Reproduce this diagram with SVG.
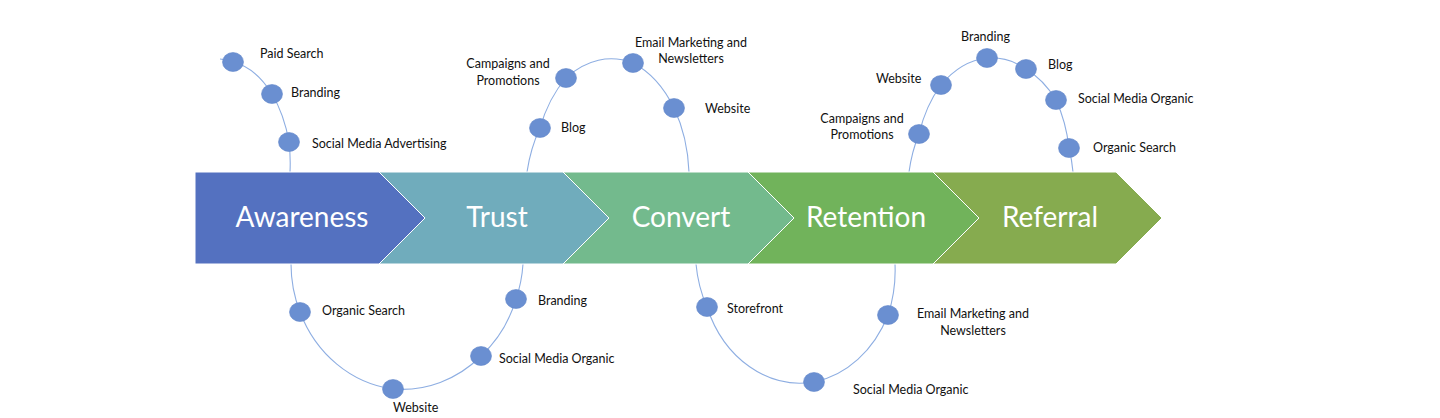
<svg xmlns="http://www.w3.org/2000/svg" width="1440" height="418" viewBox="0 0 1440 418">
<style>
.curve{fill:none;stroke:#8EAEE2;stroke-width:1.1}
.dot{fill:#6A8FD1;stroke:#6286C9;stroke-width:0.6}
.chev{stroke:#FFFFFF;stroke-width:1}
.stage{font-family:Lato,"Open Sans",sans-serif;font-size:28px;fill:#FFFFFF;text-anchor:middle}
.lbl{font-family:Lato,"Open Sans",sans-serif;font-size:12.5px;fill:#111111}
.mid{text-anchor:middle}
</style>
<rect width="1440" height="418" fill="#FFFFFF"/>
<g id="connectors">
<path class="curve" d="M220,59 A70,113 0 0,1 233,62 A70,113 0 0,1 272,94 A70,113 0 0,1 289,142 A70,113 0 0,1 290,172 L290,180"/>
<path class="curve" d="M291,256 L291,264 A116,125 0 0,0 300,312 A116,125 0 0,0 393,389 A116,125 0 0,0 481,356 A116,125 0 0,0 516,299 A116,125 0 0,0 523,264 L523,256"/>
<path class="curve" d="M527,180 L527,172 A85,125 0 0,1 540,128 A85,125 0 0,1 566,78 A85,125 0 0,1 633,63 A85,125 0 0,1 674,108 A85,125 0 0,1 689,172 L689,180"/>
<path class="curve" d="M696,256 L696,264 A100,120 0 0,0 707,307 A100,120 0 0,0 814,382 A100,120 0 0,0 888,315 A100,120 0 0,0 895,264 L895,256"/>
<path class="curve" d="M909,180 L909,172 A82,120 0 0,1 919,134 A82,120 0 0,1 941,85 A82,120 0 0,1 987,58 A82,120 0 0,1 1026,69 A82,120 0 0,1 1056,100 A82,120 0 0,1 1069,148 A82,120 0 0,1 1073,172 L1073,180"/>
</g>
<g id="stage-awareness">
<polygon class="chev" fill="#5471C0" points="195,172 379,172 425,218 379,264 195,264"/>
<text class="stage" x="302" y="227">Awareness</text>
</g>
<g id="stage-trust">
<polygon class="chev" fill="#70ACBC" points="379,172 563,172 609,218 563,264 379,264 425,218"/>
<text class="stage" x="497" y="227">Trust</text>
</g>
<g id="stage-convert">
<polygon class="chev" fill="#73BA8D" points="563,172 748,172 794,218 748,264 563,264 609,218"/>
<text class="stage" x="681" y="227">Convert</text>
</g>
<g id="stage-retention">
<polygon class="chev" fill="#71B35B" points="748,172 933,172 979,218 933,264 748,264 794,218"/>
<text class="stage" x="866" y="227">Retention</text>
</g>
<g id="stage-referral">
<polygon class="chev" fill="#86AB4F" points="933,172 1116,172 1162,218 1116,264 933,264 979,218"/>
<text class="stage" x="1050" y="227">Referral</text>
</g>
<g id="n-paid-search"><ellipse class="dot" cx="233" cy="62" rx="10.5" ry="9.5"/><text class="lbl" x="260" y="58">Paid Search</text></g>
<g id="n-branding-1"><ellipse class="dot" cx="272" cy="94" rx="10.5" ry="9.5"/><text class="lbl" x="291" y="97">Branding</text></g>
<g id="n-sma"><ellipse class="dot" cx="289" cy="142" rx="10.5" ry="9.5"/><text class="lbl" x="312" y="148">Social Media Advertising</text></g>
<g id="n-organic-search-1"><ellipse class="dot" cx="300" cy="312" rx="10.5" ry="9.5"/><text class="lbl" x="322" y="315">Organic Search</text></g>
<g id="n-website-1"><ellipse class="dot" cx="393" cy="389" rx="10.5" ry="9.5"/><text class="lbl" x="393" y="412">Website</text></g>
<g id="n-smo-1"><ellipse class="dot" cx="481" cy="356" rx="10.5" ry="9.5"/><text class="lbl" x="499" y="363">Social Media Organic</text></g>
<g id="n-branding-2"><ellipse class="dot" cx="516" cy="299" rx="10.5" ry="9.5"/><text class="lbl" x="538" y="305">Branding</text></g>
<g id="n-blog-1"><ellipse class="dot" cx="540" cy="128" rx="10.5" ry="9.5"/><text class="lbl" x="561" y="132">Blog</text></g>
<g id="n-campaigns-1"><ellipse class="dot" cx="566" cy="78" rx="10.5" ry="9.5"/><text class="lbl mid" x="508" y="68">Campaigns and</text><text class="lbl mid" x="508" y="85">Promotions</text></g>
<g id="n-email-1"><ellipse class="dot" cx="633" cy="63" rx="10.5" ry="9.5"/><text class="lbl mid" x="691" y="47">Email Marketing and</text><text class="lbl mid" x="691" y="63">Newsletters</text></g>
<g id="n-website-2"><ellipse class="dot" cx="674" cy="108" rx="10.5" ry="9.5"/><text class="lbl" x="705" y="113">Website</text></g>
<g id="n-storefront"><ellipse class="dot" cx="707" cy="307" rx="10.5" ry="9.5"/><text class="lbl" x="727" y="313">Storefront</text></g>
<g id="n-smo-2"><ellipse class="dot" cx="814" cy="382" rx="10.5" ry="9.5"/><text class="lbl" x="853" y="394">Social Media Organic</text></g>
<g id="n-email-2"><ellipse class="dot" cx="888" cy="315" rx="10.5" ry="9.5"/><text class="lbl mid" x="973" y="318">Email Marketing and</text><text class="lbl mid" x="973" y="335">Newsletters</text></g>
<g id="n-campaigns-2"><ellipse class="dot" cx="919" cy="134" rx="10.5" ry="9.5"/><text class="lbl mid" x="862" y="123">Campaigns and</text><text class="lbl mid" x="862" y="139">Promotions</text></g>
<g id="n-website-3"><ellipse class="dot" cx="941" cy="85" rx="10.5" ry="9.5"/><text class="lbl" x="876" y="83">Website</text></g>
<g id="n-branding-3"><ellipse class="dot" cx="987" cy="58" rx="10.5" ry="9.5"/><text class="lbl" x="961" y="41">Branding</text></g>
<g id="n-blog-2"><ellipse class="dot" cx="1026" cy="69" rx="10.5" ry="9.5"/><text class="lbl" x="1048" y="69">Blog</text></g>
<g id="n-smo-3"><ellipse class="dot" cx="1056" cy="100" rx="10.5" ry="9.5"/><text class="lbl" x="1078" y="103">Social Media Organic</text></g>
<g id="n-organic-search-2"><ellipse class="dot" cx="1069" cy="148" rx="10.5" ry="9.5"/><text class="lbl" x="1093" y="152">Organic Search</text></g>
</svg>
